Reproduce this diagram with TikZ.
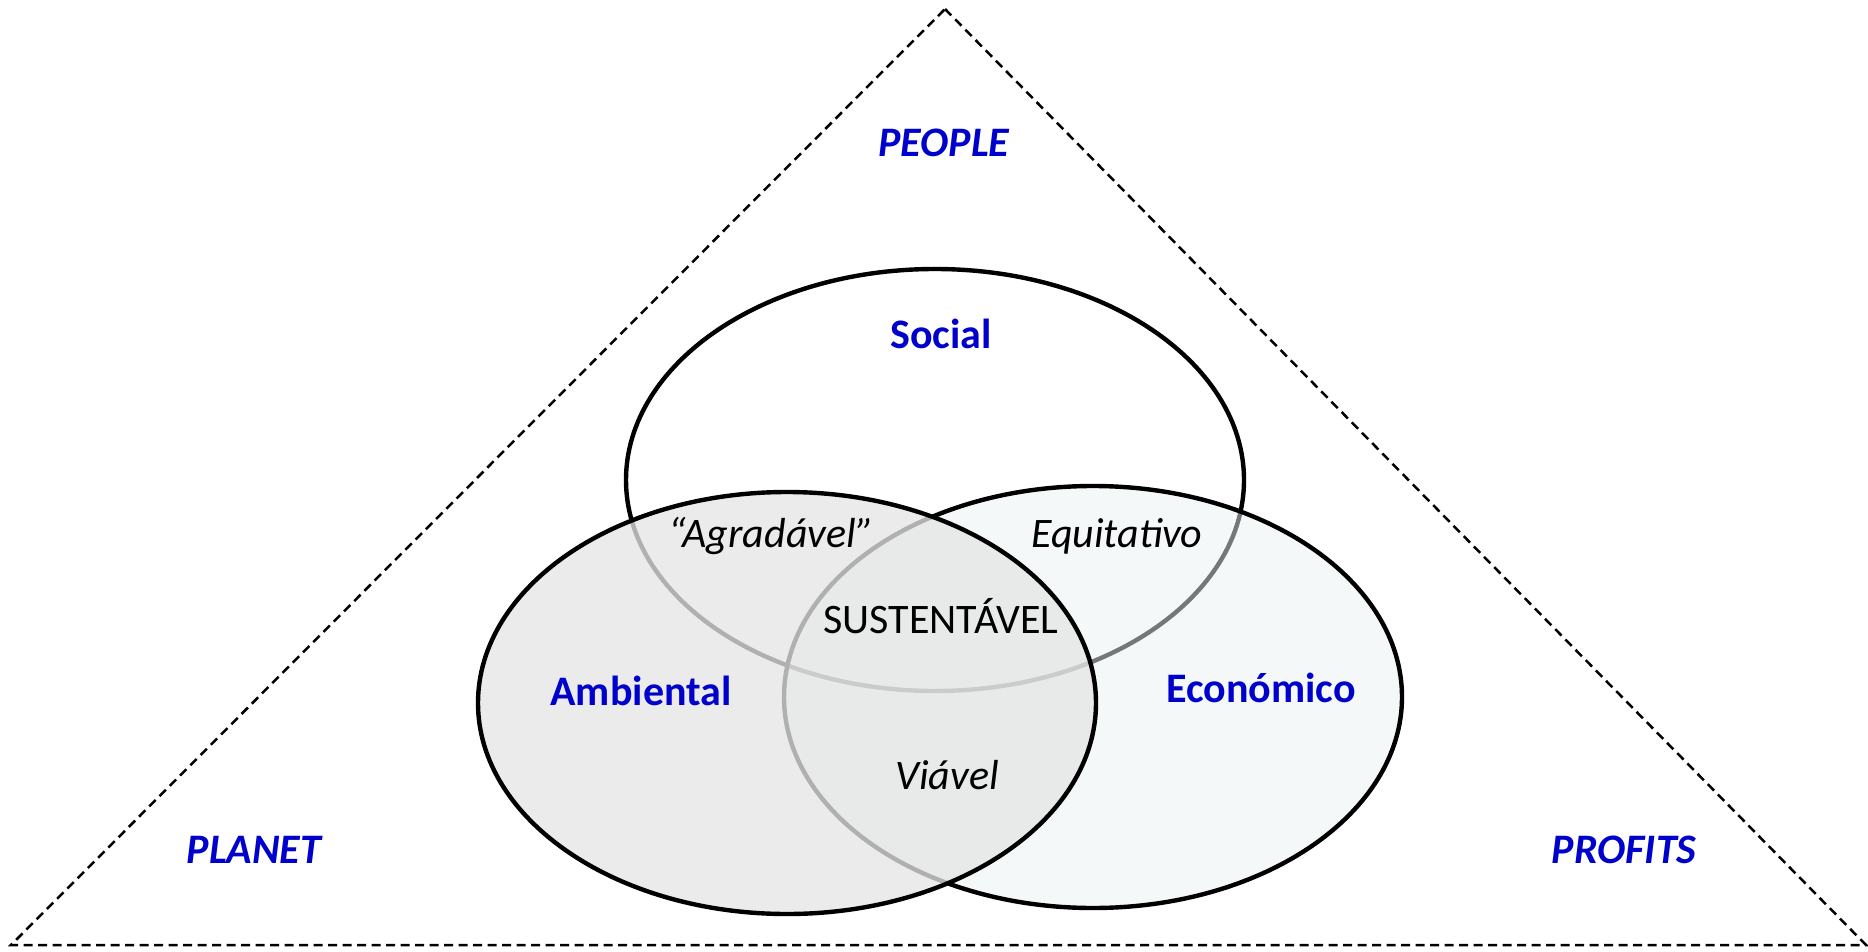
\documentclass[tikz,border=0pt]{standalone}
\usepackage{fontspec}
\setmainfont{Carlito}
\usetikzlibrary{shapes.geometric}
\definecolor{labelblue}{RGB}{0,0,204}
\definecolor{ecofill}{RGB}{235,241,243}
\definecolor{ambfill}{RGB}{229,229,229}
\begin{document}
\begin{tikzpicture}[x=1pt,y=-1pt,
  ring/.style={ellipse, draw=black, line width=4.4pt, inner sep=0pt,
    minimum width=618pt, minimum height=422pt},
  frame/.style={draw=black, line width=2.5pt, dash pattern=on 9pt off 5.5pt},
  pillar/.style={font=\fontsize{42}{50}\selectfont\bfseries\itshape,
    text=labelblue, anchor=base, inner sep=0pt},
  dimension/.style={font=\fontsize{42}{50}\selectfont\bfseries,
    text=labelblue, anchor=base, inner sep=0pt},
  overlap/.style={font=\fontsize{42}{50}\selectfont\itshape,
    text=black, anchor=base, inner sep=0pt},
  core/.style={font=\fontsize{42}{50}\selectfont,
    text=black, anchor=base, inner sep=0pt}]
\useasboundingbox (0,0) rectangle (1868,952);

% dashed triangle
\coordinate (apex) at (945,9);
\coordinate (bl) at (11,945);
\coordinate (br) at (1866,945);
\draw[frame] (apex) -- (br) -- (bl) -- cycle;

% the three dimensions, drawn back to front
\node[ring] (social) at (935,480) {};
\node[ring, fill=ecofill, fill opacity=0.5] (eco) at (1093,697) {};
\node[ring, fill=ambfill, fill opacity=0.77] (amb) at (787,703) {};

% pillar labels
\node[pillar] (people) at (944,157) {PEOPLE};
\node[pillar] (planet) at (254,863) {PLANET};
\node[pillar] (profits) at (1624,863) {PROFITS};

% dimension labels
\node[dimension] (lsocial) at (941,348) {Social};
\node[dimension] (lamb) at (641,705) {Ambiental};
\node[dimension] (leco) at (1261,702) {Económico};

% overlap labels
\node[overlap] (agr) at (771,547) {“Agradável”};
\node[overlap] (equ) at (1117,547) {Equitativo};
\node[overlap] (via) at (947,789) {Viável};
\node[core] (sus) at (941,633) {SUSTENTÁVEL};
\end{tikzpicture}
\end{document}
